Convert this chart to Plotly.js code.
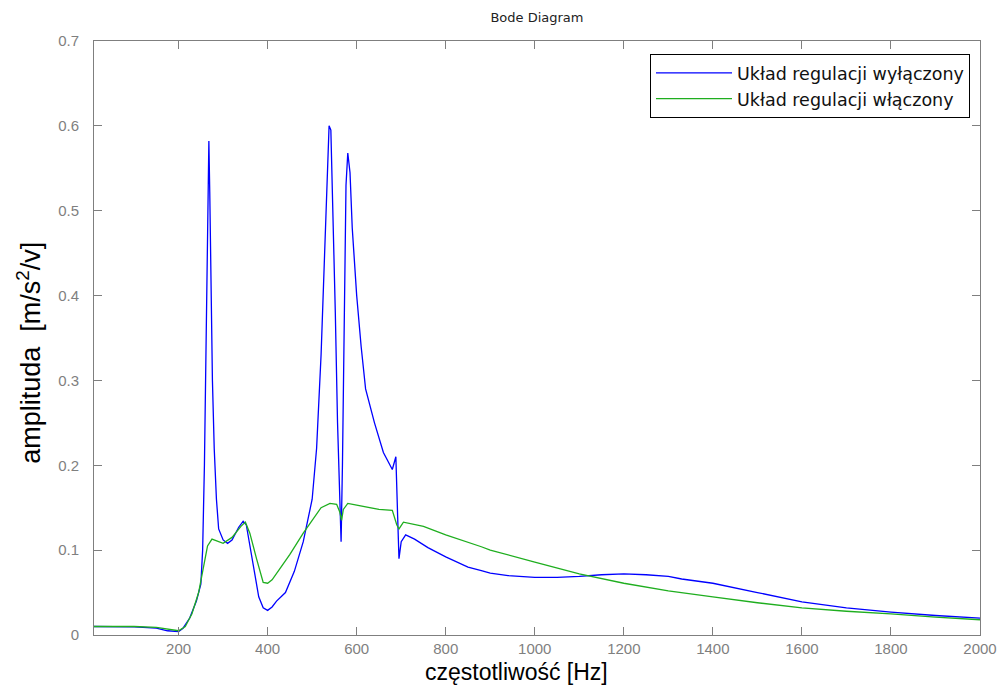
<!DOCTYPE html>
<html>
<head>
<meta charset="utf-8">
<script src="https://cdn.plot.ly/plotly-3.0.1.min.js"></script>
<style>html,body{margin:0;padding:0;background:#fff;}#chart{width:1002px;height:686px;}</style>
</head>
<body>
<div id="chart"></div>
<script>
// Frequencies [Hz] and amplitudes
const freqOff = [10, 100, 150, 175, 200, 210, 225, 240, 250, 254, 258, 262, 265, 268, 270, 272, 276, 280, 285, 290, 300, 310, 320, 335, 345, 352, 360, 370, 380, 390, 400, 410, 420, 440, 460, 480, 500, 510, 520, 530, 535, 538, 542, 547, 552, 557, 562, 565, 568, 572, 576, 580, 585, 590, 600, 610, 620, 640, 660, 680, 688, 692, 695, 700, 710, 730, 760, 800, 850, 880, 900, 940, 1000, 1050, 1100, 1150, 1200, 1250, 1300, 1330, 1400, 1500, 1600, 1700, 1800, 1900, 2000];
const ampOff  = [0.010, 0.0095, 0.008, 0.005, 0.004, 0.008, 0.020, 0.040, 0.060, 0.100, 0.200, 0.350, 0.450, 0.582, 0.522, 0.420, 0.300, 0.220, 0.160, 0.125, 0.112, 0.108, 0.112, 0.127, 0.134, 0.130, 0.105, 0.075, 0.045, 0.032, 0.029, 0.033, 0.040, 0.050, 0.075, 0.110, 0.160, 0.220, 0.330, 0.480, 0.570, 0.600, 0.595, 0.500, 0.380, 0.250, 0.150, 0.110, 0.200, 0.400, 0.530, 0.568, 0.545, 0.480, 0.400, 0.340, 0.290, 0.250, 0.215, 0.195, 0.210, 0.140, 0.090, 0.110, 0.118, 0.113, 0.103, 0.092, 0.080, 0.076, 0.073, 0.070, 0.068, 0.068, 0.069, 0.071, 0.072, 0.071, 0.069, 0.066, 0.061, 0.050, 0.039, 0.032, 0.027, 0.023, 0.020];

const freqOn = [10, 100, 150, 200, 215, 230, 245, 255, 265, 275, 290, 300, 320, 340, 350, 360, 375, 390, 400, 410, 430, 450, 480, 500, 520, 540, 555, 562, 566, 570, 580, 600, 650, 680, 690, 695, 705, 750, 800, 880, 900, 1000, 1100, 1200, 1300, 1400, 1500, 1600, 1700, 1800, 1900, 2000];
const ampOn  = [0.010, 0.010, 0.009, 0.005, 0.010, 0.025, 0.050, 0.080, 0.105, 0.113, 0.110, 0.108, 0.115, 0.128, 0.133, 0.120, 0.090, 0.062, 0.061, 0.065, 0.080, 0.095, 0.120, 0.135, 0.150, 0.155, 0.154, 0.145, 0.135, 0.148, 0.155, 0.153, 0.148, 0.147, 0.130, 0.125, 0.133, 0.128, 0.118, 0.104, 0.100, 0.086, 0.072, 0.061, 0.052, 0.045, 0.038, 0.032, 0.028, 0.025, 0.021, 0.018];

const seriesNames = ['Układ regulacji wyłączony', 'Układ regulacji włączony'];
const xTickVals = [200, 400, 600, 800, 1000, 1200, 1400, 1600, 1800, 2000];
const yTickVals = [0, 0.1, 0.2, 0.3, 0.4, 0.5, 0.6, 0.7];
const yTickText = ['0', '0.1', '0.2', '0.3', '0.4', '0.5', '0.6', '0.7'];
const chartTitle = 'Bode Diagram';
const xTitle = 'częstotliwość [Hz]';
const yTitle = 'amplituda  [m/s<sup>2</sup>/v]';

const traces = [
  {x: freqOff, y: ampOff, name: seriesNames[0], type: 'scatter', mode: 'lines',
   line: {color: '#0000ff', width: 1.3}},
  {x: freqOn, y: ampOn, name: seriesNames[1], type: 'scatter', mode: 'lines',
   line: {color: '#1fae1f', width: 1.3}}
];

const axisCommon = {
  showgrid: false, zeroline: false, showline: true, linecolor: '#7f7f7f', linewidth: 1,
  mirror: 'ticks', ticks: 'inside', ticklen: 8, tickcolor: '#7f7f7f', tickwidth: 1,
  tickfont: {family: 'Liberation Sans, Arial, sans-serif', size: 15, color: '#7f7f7f'}
};

const layout = {
  width: 1002, height: 686,
  margin: {l: 94, r: 22, t: 41, b: 51},
  paper_bgcolor: '#ffffff', plot_bgcolor: '#ffffff',
  showlegend: true,
  title: {text: chartTitle, x: 0.5359, xanchor: 'center', y: 0.974, yanchor: 'middle',
          font: {family: 'DejaVu Sans, sans-serif', size: 13, color: '#222222'}},
  xaxis: Object.assign({}, axisCommon, {
    range: [10, 2000], tickvals: xTickVals, ticktext: xTickVals.map(String)
  }),
  yaxis: Object.assign({}, axisCommon, {
    range: [0, 0.7], tickvals: yTickVals, ticktext: yTickText, ticklabelstandoff: 11
  }),
  annotations: [
    {text: xTitle, xref: 'paper', yref: 'paper', x: 0.4774, y: -0.0859,
     xanchor: 'center', yanchor: 'bottom', showarrow: false, borderpad: 0,
     font: {family: 'Liberation Sans, Arial, sans-serif', size: 23, color: '#000000'}},
    {text: yTitle, xref: 'paper', yref: 'paper', x: -0.0734, y: 0.475,
     xanchor: 'center', yanchor: 'middle', textangle: -90, showarrow: false,
     font: {family: 'Liberation Sans, Arial, sans-serif', size: 27, color: '#000000'}}
  ],
  legend: {x: 0.9887, xanchor: 'right', y: 0.978, yanchor: 'top',
           bgcolor: '#ffffff', bordercolor: '#000000', borderwidth: 1,
           font: {family: 'DejaVu Sans, sans-serif', size: 17.5, color: '#111111'},
           tracegroupgap: 0, itemwidth: 76}
};

Plotly.newPlot('chart', traces, layout, {displayModeBar: false, staticPlot: true});
</script>
</body>
</html>
